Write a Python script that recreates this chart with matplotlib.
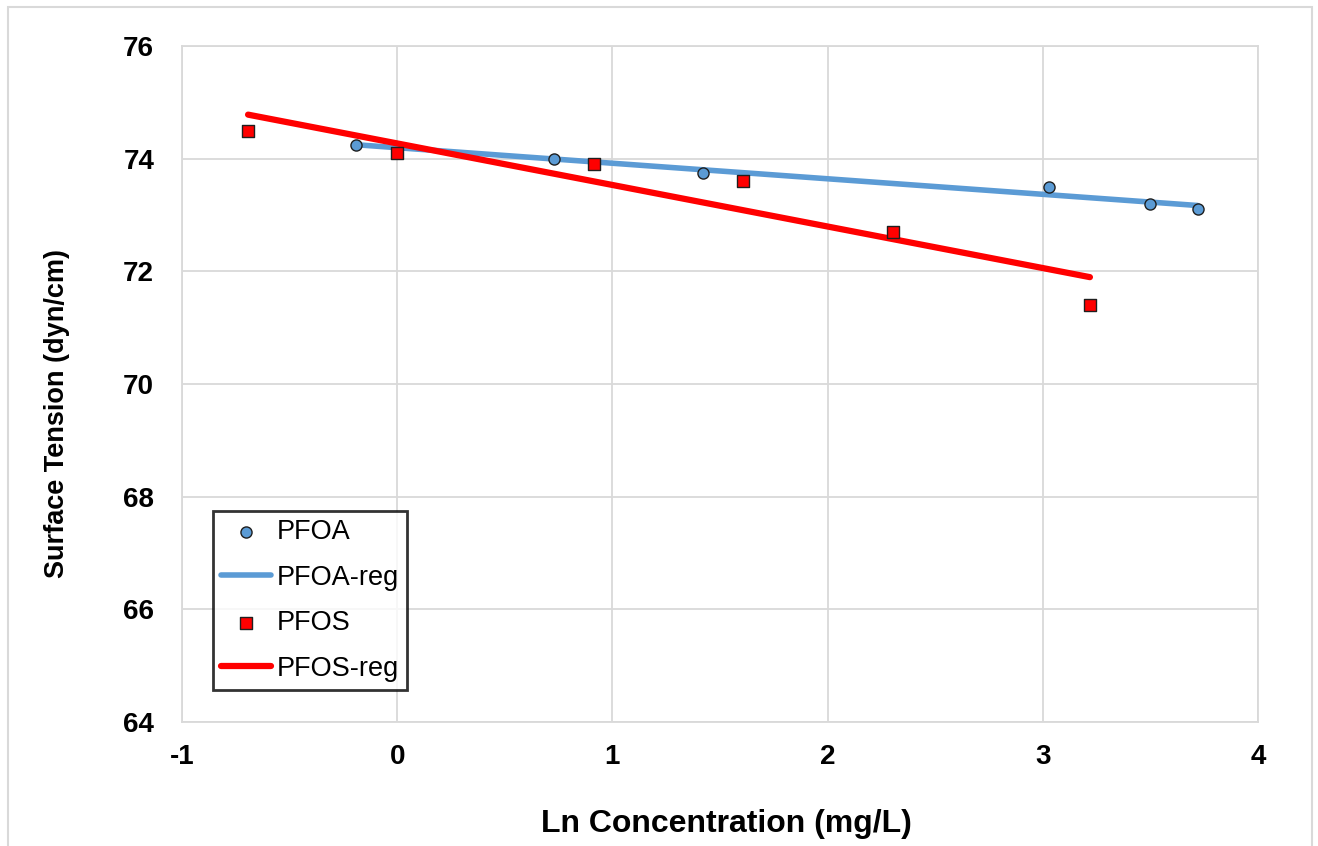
import numpy as np
import matplotlib
matplotlib.use("Agg")
import matplotlib.pyplot as plt
from matplotlib.patches import Rectangle

# data
pfoa_x = [-0.19, 0.73, 1.42, 3.03, 3.50, 3.72]
pfoa_y = [74.25, 74.0, 73.75, 73.5, 73.2, 73.1]
pfos_x = [-0.693, 0.0, 0.916, 1.609, 2.303, 3.219]
pfos_y = [74.5, 74.1, 73.9, 73.6, 72.7, 71.4]

x_ticks = [-1, 0, 1, 2, 3, 4]
y_ticks = [64, 66, 68, 70, 72, 74, 76]

BLUE = "#5B9BD5"
RED = "#FF0000"
GRID = "#D9D9D9"

plt.rcParams["font.family"] = ["Liberation Sans", "DejaVu Sans"]

W, H = 1318, 846
fig = plt.figure(figsize=(W / 100, H / 100), dpi=100)
ax = fig.add_axes([182 / W, 1 - 722 / H, (1258 - 182) / W, (722 - 46) / H])

# outer chart border
fig.patches.append(Rectangle((8 / W, -0.01), (1312 - 8) / W, 1 - 7 / H + 0.01,
                             transform=fig.transFigure, fill=False,
                             edgecolor="#D9D9D9", linewidth=1.5))


def fit_line(xs, ys):
    slope, intercept = np.polyfit(xs, ys, 1)
    xl = np.array([min(xs), max(xs)])
    return xl, slope * xl + intercept


ax.scatter(pfoa_x, pfoa_y, s=64, marker="o", color=BLUE, edgecolor="#1f1f1f",
           linewidth=1.0, zorder=4, label="PFOA")
xl, yl = fit_line(pfoa_x, pfoa_y)
ax.plot(xl, yl, color=BLUE, linewidth=4.0, solid_capstyle="round", zorder=2, label="PFOA-reg")
ax.scatter(pfos_x, pfos_y, s=64, marker="s", color=RED, edgecolor="#1f1f1f",
           linewidth=1.0, zorder=4, label="PFOS")
xl, yl = fit_line(pfos_x, pfos_y)
ax.plot(xl, yl, color=RED, linewidth=4.5, solid_capstyle="round", zorder=3, label="PFOS-reg")

ax.set_xlim(-1, 4)
ax.set_ylim(64, 76)
ax.set_xticks(x_ticks)
ax.set_yticks(y_ticks)
ax.set_xticklabels([str(t) for t in x_ticks], fontsize=20, fontweight="bold")
ax.set_yticklabels([str(t) for t in y_ticks], fontsize=20, fontweight="bold")
ax.tick_params(axis="both", length=0)
ax.tick_params(axis="y", pad=20)
ax.tick_params(axis="x", pad=16)
ax.grid(True, color=GRID, linewidth=1.3)
ax.set_axisbelow(True)
for spine in ax.spines.values():
    spine.set_color(GRID)
    spine.set_linewidth(1.3)

ax.set_xlabel("Ln Concentration (mg/L)", fontsize=23, fontweight="bold", va="center")
ax.xaxis.set_label_coords((726 - 182) / 1076, (722 - 824) / 676)
ax.set_ylabel("Surface Tension (dyn/cm)", fontsize=19.5, fontweight="bold", va="center")
ax.yaxis.set_label_coords((57 - 182) / 1076, (722 - 413) / 676)

leg = ax.legend(loc="lower left", bbox_to_anchor=((213 - 182) / 1076, (722 - 690) / 676),
                fontsize=19.5, frameon=True, fancybox=False, edgecolor="black",
                handlelength=1.85, handletextpad=0.2, labelspacing=0.72,
                borderpad=0.3, borderaxespad=0, markerscale=1.0)
leg.get_frame().set_linewidth(2.0)

fig.savefig("out.png", dpi=100)
